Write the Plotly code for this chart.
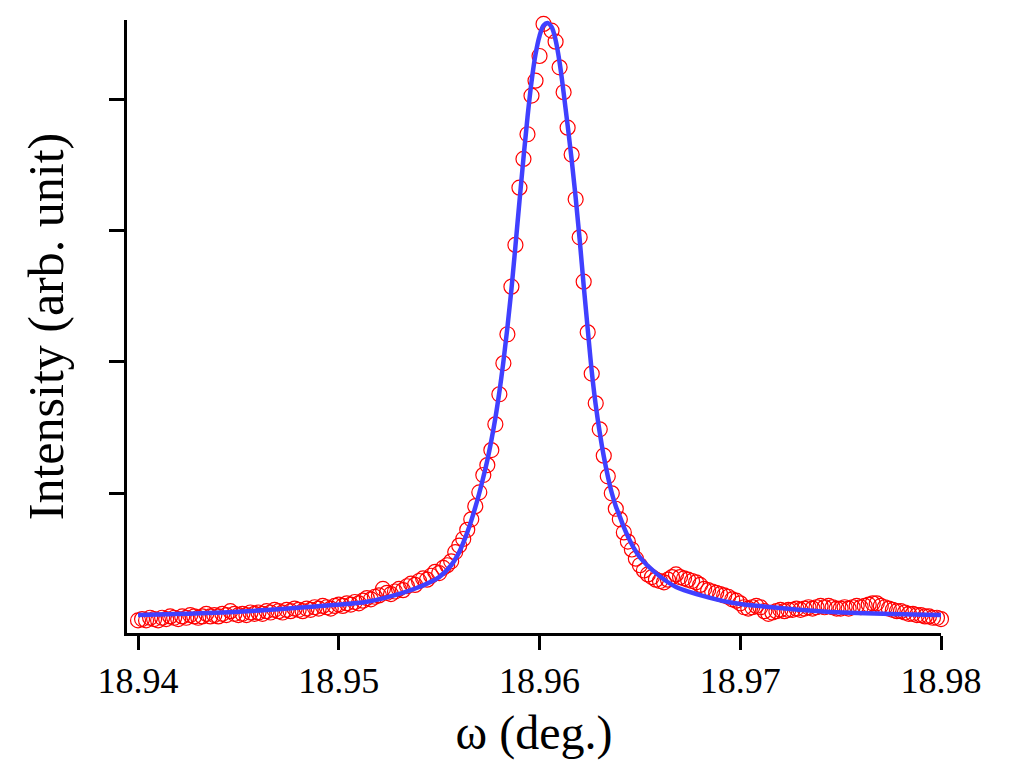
import numpy as np
import plotly.graph_objects as go

# measured rocking curve (arb. unit), omega scan 18.94 -> 18.98 deg, step 0.0002
intensity = [
    0.03, 0.04, 0.03, 0.05, 0.04, 0.03, 0.05, 0.04, 0.06, 0.05,
    0.04, 0.06, 0.05, 0.07, 0.06, 0.05, 0.06, 0.08, 0.06, 0.07,
    0.06, 0.08, 0.07, 0.10, 0.08, 0.07, 0.08, 0.07, 0.09, 0.08,
    0.09, 0.08, 0.10, 0.09, 0.11, 0.10, 0.09, 0.11, 0.10, 0.12,
    0.11, 0.10, 0.12, 0.11, 0.13, 0.12, 0.14, 0.13, 0.12, 0.14,
    0.15, 0.14, 0.16, 0.15, 0.17, 0.16, 0.18, 0.20, 0.19, 0.21,
    0.22, 0.27, 0.24, 0.23, 0.25, 0.27, 0.26, 0.29, 0.31, 0.30,
    0.33, 0.35, 0.34, 0.37, 0.40, 0.39, 0.43, 0.45, 0.48, 0.55,
    0.60, 0.65, 0.72, 0.80, 0.90,
    1.005, 1.137, 1.213, 1.327, 1.523, 1.752, 1.988, 2.209, 2.571, 2.889,
    3.325, 3.544, 3.732, 4.026, 4.140, 4.328, 4.572, 4.608, 4.521, 4.437,
    4.242, 4.052, 3.782, 3.577, 3.237, 2.947, 2.609, 2.224, 1.909, 1.683,
    1.485, 1.284, 1.127, 0.998,
    0.88, 0.80, 0.70, 0.63, 0.57, 0.50, 0.45, 0.41, 0.38, 0.36,
    0.34, 0.33, 0.32, 0.34, 0.36, 0.38, 0.36, 0.35, 0.34, 0.33,
    0.32, 0.30, 0.27, 0.26, 0.25, 0.24, 0.23, 0.22, 0.21, 0.19,
    0.18, 0.16, 0.13, 0.12, 0.13, 0.14, 0.13, 0.10, 0.08, 0.09,
    0.10, 0.11, 0.10, 0.11, 0.11, 0.12, 0.11, 0.12, 0.13, 0.12,
    0.13, 0.14, 0.13, 0.14, 0.13, 0.12, 0.12, 0.13, 0.12, 0.13,
    0.14, 0.13, 0.14, 0.15, 0.16, 0.16, 0.14, 0.13, 0.12, 0.11,
    0.10, 0.10, 0.09, 0.08, 0.08, 0.07, 0.07, 0.06, 0.06, 0.05,
    0.05, 0.04,
]
omega = np.round(18.94 + 0.0002 * np.arange(len(intensity)), 4)

# fitted profile
fit_omega = [
    18.9400, 18.9431, 18.9464, 18.9497, 18.9514, 18.9531, 18.9540, 18.9550,
    18.9556, 18.9560, 18.9562, 18.9564, 18.9566, 18.9568, 18.9570, 18.9572,
    18.9574, 18.9576, 18.9578, 18.9580, 18.9582, 18.9584, 18.9586, 18.9588,
    18.9590, 18.9592, 18.9594, 18.9596, 18.9598, 18.9600, 18.9602, 18.9604,
    18.9606, 18.9608, 18.9610, 18.9612, 18.9614, 18.9616, 18.9618, 18.9620,
    18.9622, 18.9624, 18.9626, 18.9628, 18.9630, 18.9632, 18.9634, 18.9636,
    18.9638, 18.9640, 18.9642, 18.9644, 18.9647, 18.9650, 18.9658, 18.9668,
    18.9680, 18.9696, 18.9713, 18.9743, 18.9776, 18.9800,
]
fit_int = [
    0.071, 0.084, 0.109, 0.147, 0.172, 0.236, 0.284, 0.360,
    0.450, 0.550, 0.620, 0.700, 0.790, 0.890, 1.000, 1.120,
    1.250, 1.400, 1.570, 1.770, 2.000, 2.260, 2.550, 2.880,
    3.220, 3.550, 3.860, 4.130, 4.340, 4.480, 4.560, 4.580,
    4.550, 4.450, 4.280, 4.050, 3.800, 3.540, 3.250, 2.930,
    2.580, 2.250, 1.930, 1.670, 1.460, 1.280, 1.130, 1.000,
    0.900, 0.820, 0.740, 0.670, 0.580, 0.510, 0.390, 0.284,
    0.223, 0.165, 0.134, 0.096, 0.078, 0.071,
]

FONT = "Liberation Serif, Times New Roman, serif"

fig = go.Figure()
fig.add_trace(go.Scatter(
    x=omega, y=intensity, mode="markers", cliponaxis=False,
    marker=dict(symbol="circle-open", size=15, color="#ff0000", line=dict(width=1.2, color="#ff0000")),
    showlegend=False,
))
fig.add_trace(go.Scatter(
    x=fit_omega, y=fit_int, mode="lines", line_shape="spline", cliponaxis=False,
    line=dict(color="#4040ff", width=4.5),
    showlegend=False,
))

fig.update_layout(
    width=1024, height=772,
    margin=dict(l=119, r=91, t=12, b=147),
    paper_bgcolor="white", plot_bgcolor="white",
    font=dict(family=FONT, color="black"),
)
fig.update_xaxes(
    range=[18.93945, 18.98], tickvals=[18.94, 18.95, 18.96, 18.97, 18.98],
    ticktext=["18.94", "18.95", "18.96", "18.97", "18.98"],
    showgrid=False, zeroline=False, showline=True, linecolor="black", linewidth=3,
    ticks="outside", ticklen=14, tickwidth=3, tickcolor="black",
    tickfont=dict(size=36, family=FONT), automargin=False,
    title=dict(text="ω (deg.)", font=dict(size=48, family=FONT), standoff=16),
)
fig.update_yaxes(
    range=[-0.066, 4.602], tickvals=[1, 2, 3, 4], showticklabels=False,
    showgrid=False, zeroline=False, showline=True, linecolor="black", linewidth=3,
    ticks="outside", ticklen=15, tickwidth=3, tickcolor="black", automargin=False,
    title=dict(text="Intensity (arb. unit)", font=dict(size=50, family=FONT), standoff=30),
)

fig.write_html("out.html")
